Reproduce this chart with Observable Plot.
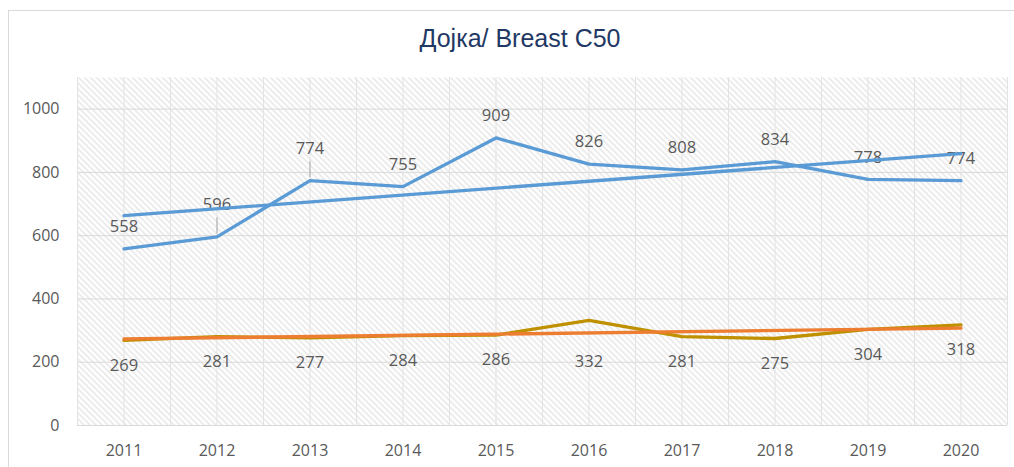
<!DOCTYPE html>
<html><head><meta charset="utf-8">
<script src="https://cdn.jsdelivr.net/npm/d3@7"></script>
<script src="https://cdn.jsdelivr.net/npm/@observablehq/plot@0.6"></script>
<style>
body{margin:0;background:#fff;width:1014px;height:467px;overflow:hidden;position:relative;font-family:"Open Sans",sans-serif}
#frame{position:absolute;left:8px;top:10px;width:1010px;height:470px;border:1px solid #d9d9d9;box-sizing:border-box}
#title{position:absolute;left:0;width:1040px;top:24px;line-height:29px;text-align:center;font-size:25px;font-family:"Liberation Sans",Arial,sans-serif;color:#1f3864}
#chart{position:absolute;left:0;top:65px}
</style></head><body>
<div id="frame"></div>
<div id="title">Дојка/ Breast C50</div>
<div id="chart"></div>
<script>
const years = [2011, 2012, 2013, 2014, 2015, 2016, 2017, 2018, 2019, 2020];
const blueValues = [558, 596, 774, 755, 909, 826, 808, 834, 778, 774];
const goldValues = [269, 281, 277, 284, 286, 332, 281, 275, 304, 318];
const yTicks = [0, 200, 400, 600, 800, 1000];
const halfSteps = d3.range(2010.5, 2021, 0.5);

const blueRows = years.map((year, i) => ({year, value: blueValues[i]}));
const goldRows = years.map((year, i) => ({year, value: goldValues[i]}));
const lifted = [2012, 2013];
const lowered = [2016];
const labelFont = {fill: "#595959", fontSize: 16.5, fontFamily: "Open Sans"};

const svg = Plot.plot({
  width: 1014,
  height: 402,
  marginLeft: 77,
  marginRight: 7,
  marginTop: 12,
  marginBottom: 42,
  style: {fontSize: "16px", fontFamily: "Open Sans", color: "#595959", background: "transparent"},
  x: {domain: [2010.5, 2020.5], ticks: 10, tickFormat: "d", tickSize: 0, tickPadding: 19, label: null},
  y: {domain: [0, 1100], ticks: 6, tickFormat: "d", tickSize: 0, tickPadding: 18, label: null},
  marks: [
    Plot.frame({fill: "url(#hatch)", stroke: null}),
    Plot.ruleY(yTicks, {stroke: "#d9d9d9", strokeWidth: 1}),
    Plot.ruleX(halfSteps, {stroke: "#e3e3e3", strokeWidth: 1}),
    Plot.line(blueRows, {x: "year", y: "value", stroke: "#5b9bd5", strokeWidth: 3.3, strokeLinejoin: "round", strokeLinecap: "round"}),
    Plot.line(goldRows, {x: "year", y: "value", stroke: "#bf9000", strokeWidth: 3.3, strokeLinejoin: "round", strokeLinecap: "round"}),
    Plot.ruleX(blueRows.filter(d => lifted.includes(d.year)), {x: "year", y1: "value", y2: "value", insetTop: -19, insetBottom: 3, stroke: "#a6a6a6", strokeWidth: 1}),
    Plot.text(blueRows.filter(d => !lifted.includes(d.year)), {x: "year", y: "value", text: d => String(d.value), dy: -22, ...labelFont}),
    Plot.text(blueRows.filter(d => lifted.includes(d.year)), {x: "year", y: "value", text: d => String(d.value), dy: -32, ...labelFont}),
    Plot.text(goldRows.filter(d => !lowered.includes(d.year)), {x: "year", y: "value", text: d => String(d.value), dy: 25, ...labelFont}),
    Plot.text(goldRows.filter(d => lowered.includes(d.year)), {x: "year", y: "value", text: d => String(d.value), dy: 41, ...labelFont}),
    Plot.linearRegressionY(blueRows, {x: "year", y: "value", stroke: "#5b9bd5", strokeWidth: 3.3, ci: 0}),
    Plot.linearRegressionY(goldRows, {x: "year", y: "value", stroke: "#ed7d31", strokeWidth: 3.3, ci: 0})
  ]
});

d3.select(svg).insert("defs", ":first-child").html(
  '<pattern id="hatch" patternUnits="userSpaceOnUse" width="6" height="6">' +
  '<rect width="6" height="6" fill="#ffffff"/>' +
  '<path d="M0,0 L6,6 M-1,5 L1,7 M5,-1 L7,1" stroke="#dcdcdc" stroke-width="1.1"/>' +
  '</pattern>'
);
document.getElementById("chart").appendChild(svg);
</script>
</body></html>
